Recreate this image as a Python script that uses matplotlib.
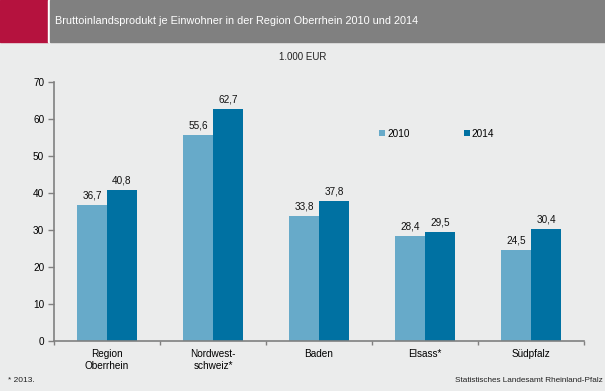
import matplotlib.pyplot as plt
import matplotlib.patches as mpatches
import numpy as np

plt.rcParams['font.family'] = ['Liberation Sans', 'DejaVu Sans']

regionen = ["Region\nOberrhein", "Nordwest-\nschweiz*", "Baden", "Elsass*", "Südpfalz"]
werte_2010 = [36.7, 55.6, 33.8, 28.4, 24.5]
werte_2014 = [40.8, 62.7, 37.8, 29.5, 30.4]
jahre = ["2010", "2014"]
y_ticks = [0, 10, 20, 30, 40, 50, 60, 70]

hell = "#67AAC9"
dunkel = "#0071A2"
bg = "#EBECEC"


def fmt(v):
    return f"{v:.1f}".replace(".", ",")


def main():
    fig = plt.figure(figsize=(6.05, 3.91), dpi=100)
    fig.patch.set_facecolor(bg)

    # --- Kopfzeile ---
    fig.patches.append(mpatches.Rectangle((0, 1 - 42 / 391), 48 / 605, 42 / 391,
                                          transform=fig.transFigure, color="#B5123E", zorder=0))
    fig.patches.append(mpatches.Rectangle((48 / 605, 1 - 42 / 391), 2 / 605, 42 / 391,
                                          transform=fig.transFigure, color="white", zorder=0))
    fig.patches.append(mpatches.Rectangle((50 / 605, 1 - 42 / 391), 1 - 50 / 605, 42 / 391,
                                          transform=fig.transFigure, color="#808080", zorder=0))
    fig.text(55 / 605, 1 - 21 / 391, "Bruttoinlandsprodukt je Einwohner in der Region Oberrhein 2010 und 2014",
             color="white", fontsize=7.8, va="center", ha="left")

    fig.text(0.5, 1 - 57 / 391, "1.000 EUR", fontsize=7, ha="center", va="center", color="#222222")
    fig.text(8 / 605, 1 - 380 / 391, "* 2013.", fontsize=6, ha="left", va="center", color="#222222")
    fig.text(603 / 605, 1 - 380 / 391, "Statistisches Landesamt Rheinland-Pfalz", fontsize=5.9,
             ha="right", va="center", color="#222222")

    # --- Diagramm ---
    ax = fig.add_axes([54 / 605, 1 - 341 / 391, 530 / 605, 259 / 391])
    ax.set_facecolor(bg)
    x = np.arange(len(regionen))
    w = 0.283
    b1 = ax.bar(x - w / 2, werte_2010, w, color=hell, label=jahre[0])
    b2 = ax.bar(x + w / 2, werte_2014, w, color=dunkel, label=jahre[1])
    for bars, vals in ((b1, werte_2010), (b2, werte_2014)):
        for r, v in zip(bars, vals):
            ax.text(r.get_x() + r.get_width() / 2, v + 1.2, fmt(v), ha="center", va="bottom",
                    fontsize=7.2, color="#111111")

    ax.set_xlim(-0.5, len(regionen) - 0.5)
    ax.set_ylim(0, 70)
    ax.set_yticks(y_ticks)
    ax.set_xticks(x)
    ax.set_xticklabels(regionen, fontsize=7.2, linespacing=1.25)
    ax.set_xticks(np.arange(len(regionen) + 1) - 0.5, minor=True)
    ax.tick_params(axis="x", which="major", length=0, pad=6)
    ax.tick_params(axis="x", which="minor", length=3, color="#808080", width=1)
    ax.tick_params(axis="y", length=4, color="#808080", width=1, labelsize=7.2, pad=3)
    for s in ("top", "right"):
        ax.spines[s].set_visible(False)
    for s in ("left", "bottom"):
        ax.spines[s].set_color("#808080")
        ax.spines[s].set_linewidth(1.2)

    ax.legend(loc="center left", bbox_to_anchor=(0.597, 0.80), ncol=2, frameon=False,
              handlelength=0.6, handleheight=0.6, handletextpad=0.2, columnspacing=5.4,
              fontsize=7.2)

    plt.savefig("out.png", dpi=100, facecolor=bg)


if __name__ == "__main__":
    main()
